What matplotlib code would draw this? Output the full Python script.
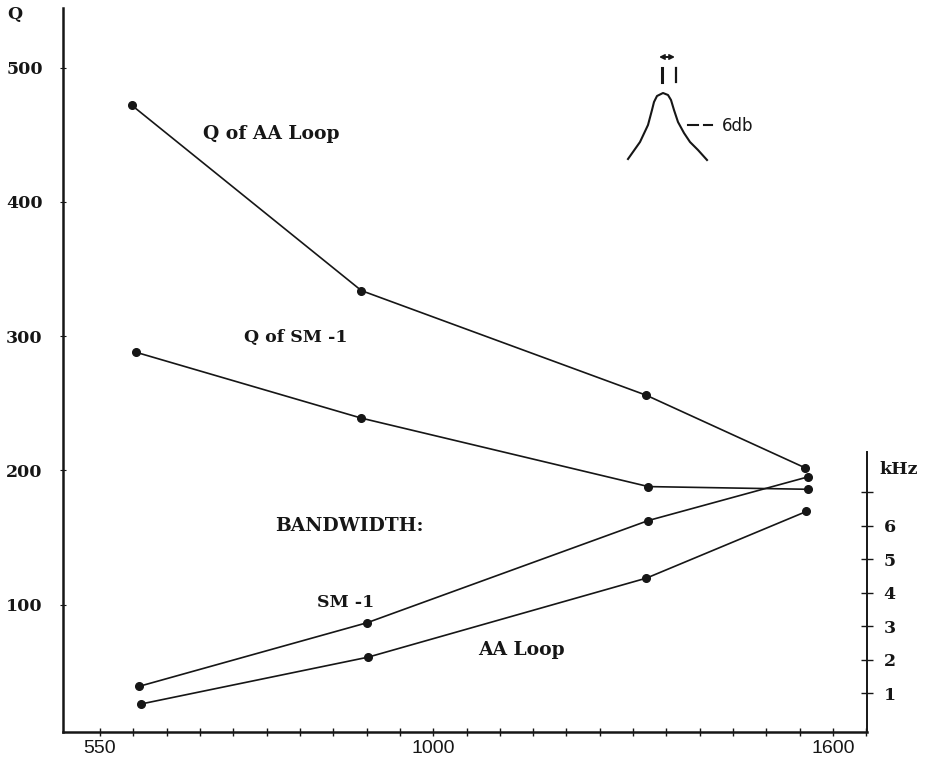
import numpy as np
import matplotlib
matplotlib.use("Agg")
import matplotlib.pyplot as plt

# Q of the two antennas (left axis)
freq_q_aa = [593, 903, 1320, 1558]
q_aa = [472, 334, 256, 202]
freq_q_sm = [599, 903, 1323, 1562]
q_sm = [288, 239, 188, 186]

# -6 dB bandwidth in kHz (right axis)
freq_bw_sm = [603, 911, 1323, 1562]
bw_sm = [1.2, 3.1, 6.15, 7.45]
freq_bw_aa = [605, 912, 1320, 1560]
bw_aa = [0.67, 2.07, 4.43, 6.42]

q_ticks = [100, 200, 300, 400, 500]
khz_ticks = [1, 2, 3, 4, 5, 6, 7]
khz_labels = ["1", "2", "3", "4", "5", "6", ""]
x_labelled = [550, 1000, 1600]
x_minor = list(range(550, 1000, 45)) + list(range(1000, 1651, 50))

# hand-drawn frequency axis: 45 kHz per division below 1000, 50 above
knots_f = [0, 550, 1000, 1600, 3000]
knots_u = [-550 / 45, 0, 10, 22, 22 + 1400 / 50]

def fwd(x):
    return np.interp(x, knots_f, knots_u)

def inv(u):
    return np.interp(u, knots_u, knots_f)

ink = "#161616"
serif = "DejaVu Serif"

fig = plt.figure(figsize=(9.28, 7.6), dpi=100)
W, H = 928, 760
ax = fig.add_axes([63 / W, 28 / H, (867 - 63) / W, (732 - 8) / H])
ax.set_xscale("function", functions=(fwd, inv))
ax.set_xlim(500, 1651)
ax.set_ylim(5.2, 544.5)

ax2 = ax.twinx()
ax2.set_ylim(-0.164, 21.45)

for a in (ax, ax2):
    a.spines["top"].set_visible(False)
    a.patch.set_visible(False)
ax.spines["right"].set_visible(False)
ax2.spines["left"].set_visible(False)
ax2.spines["bottom"].set_visible(False)
ax2.spines["right"].set_bounds(-0.164, 8.2)
for s in ("left", "bottom"):
    ax.spines[s].set_linewidth(1.8)
    ax.spines[s].set_color(ink)
ax2.spines["right"].set_linewidth(1.4)
ax2.spines["right"].set_color(ink)

mk = dict(color=ink, lw=1.2, marker="o", markersize=5.5)
ax.plot(freq_q_aa, q_aa, **mk)
ax.plot(freq_q_sm, q_sm, **mk)
ax2.plot(freq_bw_sm, bw_sm, **mk)
ax2.plot(freq_bw_aa, bw_aa, **mk)

# left axis
ax.set_yticks(q_ticks)
ax.set_yticklabels([str(v) for v in q_ticks], fontfamily=serif,
                   fontweight="bold", fontsize=12.5, color=ink)
ax.tick_params(axis="y", direction="inout", length=5, width=0.8, pad=12,
               color=ink)

# bottom axis
ax.set_xticks(x_minor, minor=True)
ax.set_xticks(x_labelled)
ax.set_xticklabels([str(v) for v in x_labelled], fontfamily="Liberation Sans",
                   fontsize=14, color=ink)
ax.tick_params(axis="x", which="both", direction="inout", length=6,
               width=1.0, pad=3, color=ink)

# right axis in kHz
ax2.set_yticks(khz_ticks)
ax2.set_yticklabels(khz_labels, fontfamily=serif, fontweight="bold",
                    fontsize=12.5, color=ink)
ax2.tick_params(axis="y", direction="inout", length=8, width=1.0, pad=8,
                color=ink)
ax2.text(1.016, 7.66, "kHz", transform=ax2.get_yaxis_transform(),
         fontfamily=serif, fontweight="bold", fontsize=12.5, color=ink,
         va="center", ha="left")

fig.text(15 / W, 1 - 15 / H, "Q", fontfamily=serif, fontweight="bold",
         fontsize=12.5, color=ink, va="center", ha="center")

lab = dict(fontfamily=serif, fontweight="bold", fontsize=13.5, color=ink,
           va="center", ha="left")
ax.text(689, 451, "Q of AA Loop", **lab)
ax.text(745, 299, "Q of SM -1", **dict(lab, fontsize=12.5))
ax.text(787, 159, "BANDWIDTH:", **lab)
ax.text(843, 102, "SM -1", **dict(lab, fontsize=12.5))
ax.text(1067, 66, "AA Loop", **lab)

# little sketch of the resonance curve (figure pixels)
ins = fig.add_axes([600 / W, 1 - 180 / H, 180 / W, 140 / H])
ins.set_xlim(600, 780)
ins.set_ylim(180, 40)
ins.axis("off")
curve_x = [628, 640, 648, 652, 654, 657, 663, 668, 671, 674, 678, 684, 690, 698, 707]
curve_y = [159, 142, 125, 110, 102, 96, 93, 95, 100, 110, 122, 133, 142, 150, 160]
ins.plot(curve_x, curve_y, color=ink, lw=1.5)
ins.plot([662, 662], [68, 82], color=ink, lw=2.2)
ins.plot([676, 676], [68, 82], color=ink, lw=1.6)
ins.annotate("", xy=(659, 57), xytext=(675, 57),
             arrowprops=dict(arrowstyle="<->", color=ink, lw=1.4,
                             mutation_scale=7, shrinkA=0, shrinkB=0))
ins.plot([688, 698], [125, 125], color=ink, lw=1.5)
ins.plot([704, 712], [125, 125], color=ink, lw=1.5)
ins.text(722, 126, "6db", fontfamily="DejaVu Sans", fontsize=12,
         color=ink, va="center", ha="left")

fig.savefig("out.png", dpi=100)
